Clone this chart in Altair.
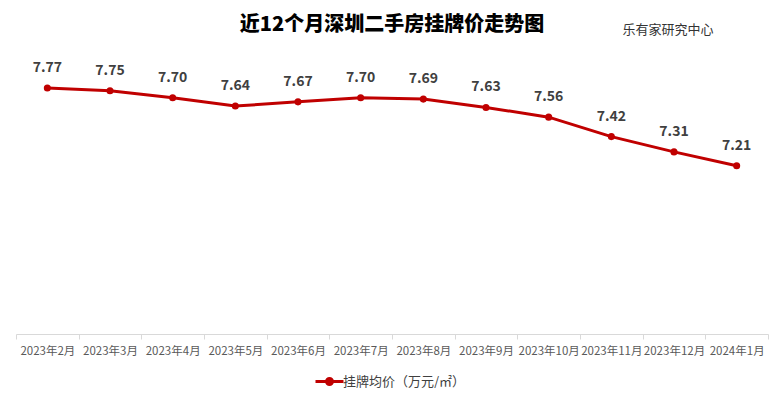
import altair as alt
import pandas as pd

months = ["2023年2月", "2023年3月", "2023年4月", "2023年5月", "2023年6月", "2023年7月",
          "2023年8月", "2023年9月", "2023年10月", "2023年11月", "2023年12月", "2024年1月"]
values = [7.77, 7.75, 7.70, 7.64, 7.67, 7.70, 7.69, 7.63, 7.56, 7.42, 7.31, 7.21]
series_name = "挂牌均价（万元/㎡）"
title_text = "近12个月深圳二手房挂牌价走势图"
source_text = "乐有家研究中心"

df = pd.DataFrame({"month": months, "value": values, "series": series_name})

FONT = "Noto Sans CJK SC"
RED = "#C00000"

x_enc = alt.X("month:N", sort=months, bandPosition=0.5,
              scale=alt.Scale(type="band", paddingInner=0, paddingOuter=0),
              axis=alt.Axis(title=None, labelAngle=0, labelFontSize=11.5, labelColor="#595959",
                            labelFont=FONT, domainColor="#d9d9d9", tickColor="#d9d9d9",
                            tickSize=5, tickBand="extent", labelPadding=6, grid=False))
y_enc = alt.Y("value:Q", scale=alt.Scale(domain=[6, 8], nice=False, zero=False), axis=None)

base = alt.Chart(df)

line = base.mark_line(strokeWidth=3).encode(
    x=x_enc, y=y_enc,
    color=alt.Color("series:N", scale=alt.Scale(range=[RED]),
                    legend=alt.Legend(title=None, orient="none", legendX=302, legendY=314,
                                      padding=0,
                                      labelFont=FONT, labelFontSize=13, labelColor="#404040",
                                      symbolType="M-1.4,0L1.4,0M0.3,0A0.3,0.3 0 1,1 -0.3,0A0.3,0.3 0 1,1 0.3,0Z",
                                      symbolSize=400, symbolStrokeWidth=3,
                                      symbolFillColor=RED, symbolStrokeColor=RED,
                                      labelOffset=2))
)
points = base.mark_circle(size=50, opacity=1, color=RED).encode(x=x_enc, y=y_enc)
labels = base.mark_text(dy=-20, fontSize=14, fontWeight="bold", color="#404040", font=FONT).encode(
    x=x_enc, y=y_enc, text=alt.Text("value:Q", format=".2f")
)

title = alt.Chart(pd.DataFrame({"t": [title_text]})).mark_text(
    fontSize=20, fontWeight=900, color="#000000", font=FONT
).encode(x=alt.value(376), y=alt.value(-31), text="t:N")

source = alt.Chart(pd.DataFrame({"t": [source_text]})).mark_text(
    fontSize=13, color="#333333", font=FONT
).encode(x=alt.value(652), y=alt.value(-26), text="t:N")

chart = alt.layer(line, points, labels, title, source).properties(
    width=752, height=278,
    autosize=alt.AutoSizeParams(type="none"),
    padding={"left": 8, "top": 48, "right": 8, "bottom": 54},
    background="white",
).configure_view(stroke=None)

chart.save("out.html", embed_options={"renderer": "svg", "actions": False})
